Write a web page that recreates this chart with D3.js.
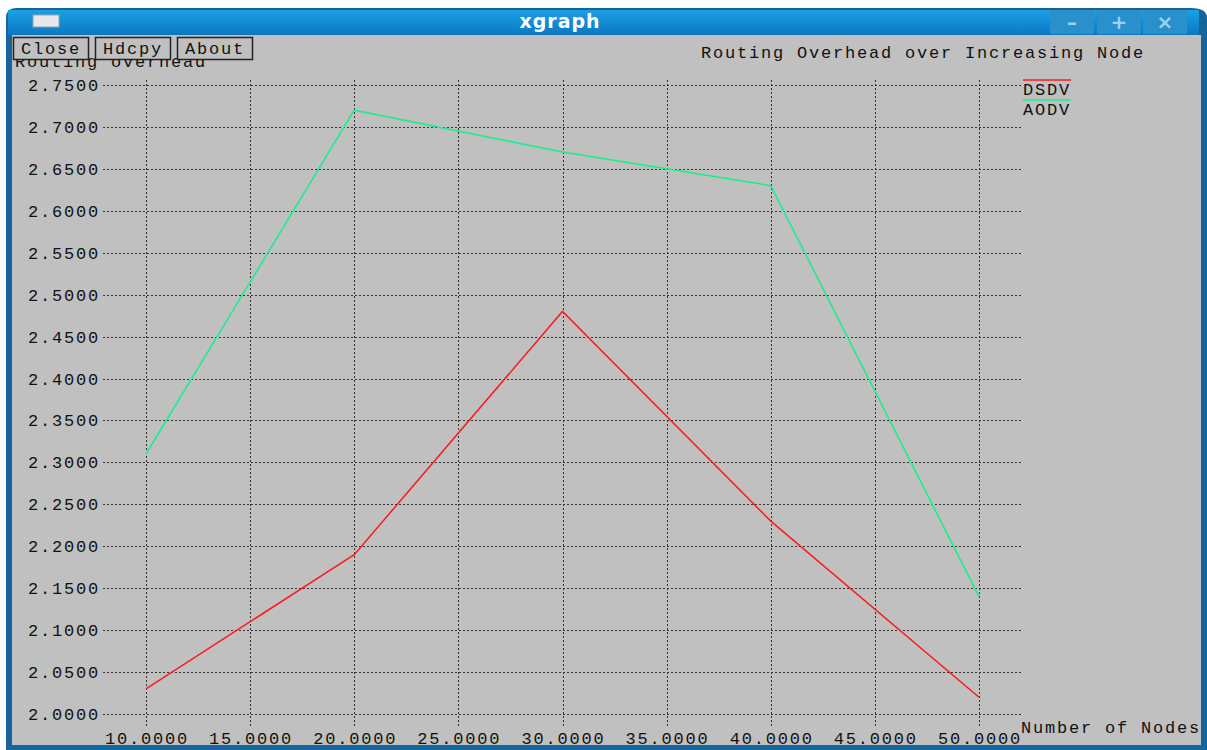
<!DOCTYPE html>
<html>
<head>
<meta charset="utf-8">
<script src="https://cdn.jsdelivr.net/npm/d3@7"></script>
<style>
  body { margin: 0; background: #fff; }
  text { font-family: "Liberation Mono", "DejaVu Sans Mono", monospace; }
</style>
</head>
<body>
<div id="chart"></div>
<script>
var width = 1207, height = 750;

var nodes = [10, 20, 30, 40, 50];
var dsdv = [2.03, 2.19, 2.48, 2.23, 2.02];
var aodv = [2.31, 2.72, 2.67, 2.63, 2.14];
var seriesNames = ['DSDV', 'AODV'];
var seriesColors = ['#ff1a1a', '#14f08c'];
var xTicks = [10, 15, 20, 25, 30, 35, 40, 45, 50];
var yTicks = [2.0, 2.05, 2.1, 2.15, 2.2, 2.25, 2.3, 2.35, 2.4, 2.45, 2.5, 2.55, 2.6, 2.65, 2.7, 2.75];
var buttons = ['Close', 'Hdcpy', 'About'];

var svg = d3.select('#chart').append('svg')
  .attr('width', width)
  .attr('height', height);

// window frame
var defs = svg.append('defs');
var grad = defs.append('linearGradient').attr('id', 'tbar').attr('x1', 0).attr('y1', 0).attr('x2', 0).attr('y2', 1);
grad.append('stop').attr('offset', '0%').attr('stop-color', '#1aa0e8');
grad.append('stop').attr('offset', '100%').attr('stop-color', '#0a78c0');

svg.append('path')
  .attr('d', 'M6,750 L6,18 Q6,8 16,8 L1191,8 Q1207,8 1207,18 L1207,750 Z')
  .attr('fill', '#17649a');
svg.append('rect').attr('x', 8).attr('y', 10).attr('width', 1191).attr('height', 25).attr('fill', 'url(#tbar)');
svg.append('rect').attr('x', 12).attr('y', 35).attr('width', 1189).attr('height', 710).attr('fill', '#c0c0c0');
svg.append('rect').attr('x', 33).attr('y', 15).attr('width', 26).attr('height', 12)
  .attr('fill', '#e8e8e8').attr('stroke', '#8aa').attr('stroke-width', 1);
svg.append('text').attr('x', 560).attr('y', 28).attr('text-anchor', 'middle')
  .attr('fill', '#fff').style('font-family', '"DejaVu Sans", sans-serif')
  .style('font-weight', 'bold').style('font-size', '19px').style('letter-spacing', '1px')
  .text('xgraph');

var wb = svg.append('g');
[[1050, '\u2013'], [1097, '+'], [1143, '\u00d7']].forEach(function(b) {
  wb.append('rect').attr('x', b[0]).attr('y', 10).attr('width', 44).attr('height', 24).attr('fill', '#2a90cc');
  wb.append('text').attr('x', b[0] + 22).attr('y', 29).attr('text-anchor', 'middle')
    .attr('fill', '#9fd0f0').style('font-family', '"DejaVu Sans", sans-serif')
    .style('font-weight', 'bold').style('font-size', '20px').text(b[1]);
});

// scales
var x = d3.scaleLinear().domain([10, 50]).range([146, 979]);
var y = d3.scaleLinear().domain([2.0, 2.75]).range([714, 85]);

var fontSize = '17px', spacing = '1.8px';

// grid
var grid = svg.append('g').attr('stroke', '#333').attr('stroke-width', 1).attr('stroke-dasharray', '2,2');
grid.selectAll('.h').data(yTicks).enter().append('line')
  .attr('x1', 103).attr('x2', 1021)
  .attr('y1', function(d) { return Math.round(y(d)) + 0.5; })
  .attr('y2', function(d) { return Math.round(y(d)) + 0.5; });
grid.selectAll('.v').data(xTicks).enter().append('line')
  .attr('x1', function(d) { return Math.round(x(d)) + 0.5; })
  .attr('x2', function(d) { return Math.round(x(d)) + 0.5; })
  .attr('y1', 80).attr('y2', 726);

// tick labels
svg.append('g').selectAll('text').data(yTicks).enter().append('text')
  .attr('x', 100).attr('y', function(d) { return y(d) + 6; })
  .attr('text-anchor', 'end').attr('fill', '#111')
  .style('font-size', fontSize).style('letter-spacing', spacing)
  .text(function(d) { return d.toFixed(4); });
svg.append('g').selectAll('text').data(xTicks).enter().append('text')
  .attr('x', function(d) { return x(d) + 1; }).attr('y', 744)
  .attr('text-anchor', 'middle').attr('fill', '#111')
  .style('font-size', fontSize).style('letter-spacing', spacing)
  .text(function(d) { return d.toFixed(4); });

// axis titles
svg.append('text').attr('x', 15).attr('y', 67).attr('fill', '#111')
  .style('font-size', fontSize).style('letter-spacing', spacing).text('Routing overhead');
svg.append('text').attr('x', 1021).attr('y', 733).attr('fill', '#111')
  .style('font-size', fontSize).style('letter-spacing', spacing).text('Number of Nodes');
svg.append('text').attr('x', 701).attr('y', 58).attr('fill', '#111')
  .style('font-size', fontSize).style('letter-spacing', spacing).text('Routing Overhead over Increasing Node');

// buttons (drawn over the y title, as in xgraph)
var bg = svg.append('g');
buttons.forEach(function(name, i) {
  var bx = 13 + i * 82;
  bg.append('rect').attr('x', bx + 0.5).attr('y', 37.5).attr('width', 75).attr('height', 22)
    .attr('fill', '#c0c0c0').attr('stroke', '#222').attr('stroke-width', 1.5);
  bg.append('text').attr('x', bx + 38).attr('y', 54).attr('text-anchor', 'middle').attr('fill', '#111')
    .style('font-size', fontSize).style('letter-spacing', spacing).text(name);
});

// lines
var line = d3.line()
  .x(function(d, i) { return x(nodes[i]); })
  .y(function(d) { return y(d); });
[dsdv, aodv].forEach(function(s, i) {
  svg.append('path').datum(s)
    .attr('d', line)
    .attr('fill', 'none')
    .attr('stroke', seriesColors[i])
    .attr('stroke-width', 1.5);
});

// legend
var leg = svg.append('g');
seriesNames.forEach(function(name, i) {
  var ly = 80 + i * 20;
  leg.append('line').attr('x1', 1023).attr('x2', 1071).attr('y1', ly).attr('y2', ly)
    .attr('stroke', seriesColors[i]).attr('stroke-width', 2).attr('opacity', 0.75);
  leg.append('text').attr('x', 1023).attr('y', ly + 15).attr('fill', '#111')
    .style('font-size', fontSize).style('letter-spacing', spacing).text(name);
});
</script>
</body>
</html>
